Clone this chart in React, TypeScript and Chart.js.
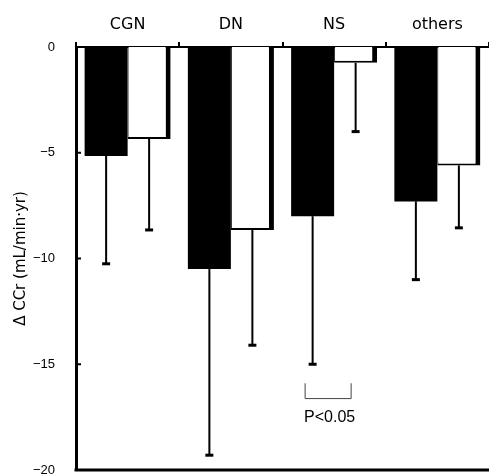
import React, { useEffect, useRef } from "react";
import { Chart, registerables } from "chart.js";

Chart.register(...registerables);

const categories = ["CGN", "DN", "NS", "others"];
const blackValues = [-5.15, -10.5, -8.0, -7.3];
const blackErrors = [5.1, 8.8, 7.0, 3.7];
const whiteValues = [-4.35, -8.65, -0.75, -5.6];
const whiteErrors = [4.3, 5.45, 3.25, 2.95];
const yTicks = [0, -5, -10, -15, -20];
const annotationText = "P<0.05";
const annotationCategory = 2;
const bracketTop = -15.9;
const bracketBottom = -16.6;
const annotationY = -17.5;

const errorBarPlugin = {
  id: "errorBars",
  afterDatasetsDraw(chart: any) {
    const ctx = chart.ctx;
    const y = chart.scales.y;
    const errs = [blackErrors, whiteErrors];
    const vals = [blackValues, whiteValues];
    ctx.save();
    ctx.strokeStyle = "#000";
    chart.data.datasets.forEach((_: any, di: number) => {
      const meta = chart.getDatasetMeta(di);
      meta.data.forEach((el: any, i: number) => {
        const x = el.x;
        const y0 = el.y;
        const y1 = y.getPixelForValue(vals[di][i] - errs[di][i]);
        ctx.lineWidth = 2;
        ctx.beginPath();
        ctx.moveTo(x, y0);
        ctx.lineTo(x, y1);
        ctx.stroke();
        ctx.lineWidth = 3;
        ctx.beginPath();
        ctx.moveTo(x - 4, y1);
        ctx.lineTo(x + 4, y1);
        ctx.stroke();
      });
    });
    const area = chart.chartArea;
    ctx.lineWidth = 2;
    yTicks.forEach((t) => {
      const py = y.getPixelForValue(t);
      ctx.beginPath();
      ctx.moveTo(area.left, py);
      ctx.lineTo(area.left + 5, py);
      ctx.stroke();
    });
    ctx.lineWidth = 3;
    ctx.beginPath();
    ctx.moveTo(area.left - 1.5, area.bottom);
    ctx.lineTo(area.right, area.bottom);
    ctx.stroke();
    const b = chart.getDatasetMeta(0).data[annotationCategory];
    const w = chart.getDatasetMeta(1).data[annotationCategory];
    const xl = b.x - 8;
    const xr = w.x - 5;
    const yt = y.getPixelForValue(bracketTop);
    const yb = y.getPixelForValue(bracketBottom);
    ctx.strokeStyle = "#444";
    ctx.lineWidth = 1;
    ctx.beginPath();
    ctx.moveTo(xl + 0.5, yt);
    ctx.lineTo(xl + 0.5, yb + 0.5);
    ctx.lineTo(xr + 0.5, yb + 0.5);
    ctx.lineTo(xr + 0.5, yt);
    ctx.stroke();
    ctx.fillStyle = "#000";
    ctx.font = "16px 'Liberation Sans', Arial, sans-serif";
    ctx.textAlign = "center";
    ctx.textBaseline = "middle";
    ctx.fillText(annotationText, (xl + xr) / 2 + 2, y.getPixelForValue(annotationY));
    ctx.restore();
  },
};

export default function App() {
  const ref = useRef<HTMLCanvasElement | null>(null);
  useEffect(() => {
    document.body.style.margin = "0";
    const chart = new Chart(ref.current as HTMLCanvasElement, {
      type: "bar",
      data: {
        labels: categories,
        datasets: [
          {
            data: blackValues,
            backgroundColor: "#000",
            borderWidth: 0,
            categoryPercentage: 0.833,
            barPercentage: 1,
          },
          {
            data: whiteValues,
            backgroundColor: "#fff",
            borderColor: "#000",
            borderWidth: { top: 0, left: 1, right: 5, bottom: 2 } as any,
            borderSkipped: false as any,
            categoryPercentage: 0.833,
            barPercentage: 1,
          },
        ],
      },
      options: {
        responsive: false,
        animation: false,
        layout: { padding: { left: 0, right: 0, top: 0, bottom: 6 } },
        plugins: { legend: { display: false }, tooltip: { enabled: false } },
        scales: {
          x: {
            position: "top",
            z: 1,
            grid: {
              display: true,
              drawOnChartArea: false,
              drawTicks: true,
              tickLength: 5,
              color: "#000",
              lineWidth: 2,
              offset: true,
            },
            border: { display: true, color: "#000", width: 2 },
            ticks: {
              color: "#000",
              padding: 8,
              font: { family: "'DejaVu Sans', sans-serif", size: 16 },
            },
            afterFit(scale: any) {
              scale.height = 47;
            },
          },
          y: {
            min: -20,
            max: 0,
            afterBuildTicks(scale: any) {
              scale.ticks = yTicks.map((v) => ({ value: v }));
            },
            grid: { display: false },
            border: { display: true, color: "#000", width: 3 },
            ticks: {
              color: "#000",
              padding: 13,
              font: { family: "'Liberation Sans', Arial, sans-serif", size: 13 },
              callback: (v: any) => String(v).replace("-", "\u2212"),
            },
            title: {
              display: true,
              text: "\u0394 CCr (mL/min\u00b7yr)",
              color: "#000",
              padding: { top: 12, bottom: 0 },
              font: { family: "'DejaVu Sans', sans-serif", size: 15 },
            },
            afterFit(scale: any) {
              scale.width = 76;
              scale.paddingTop = 0;
              scale.paddingBottom = 0;
            },
          },
        },
      },
      plugins: [errorBarPlugin],
    });
    return () => chart.destroy();
  }, []);
  return <canvas ref={ref} width={489} height={476} />;
}
